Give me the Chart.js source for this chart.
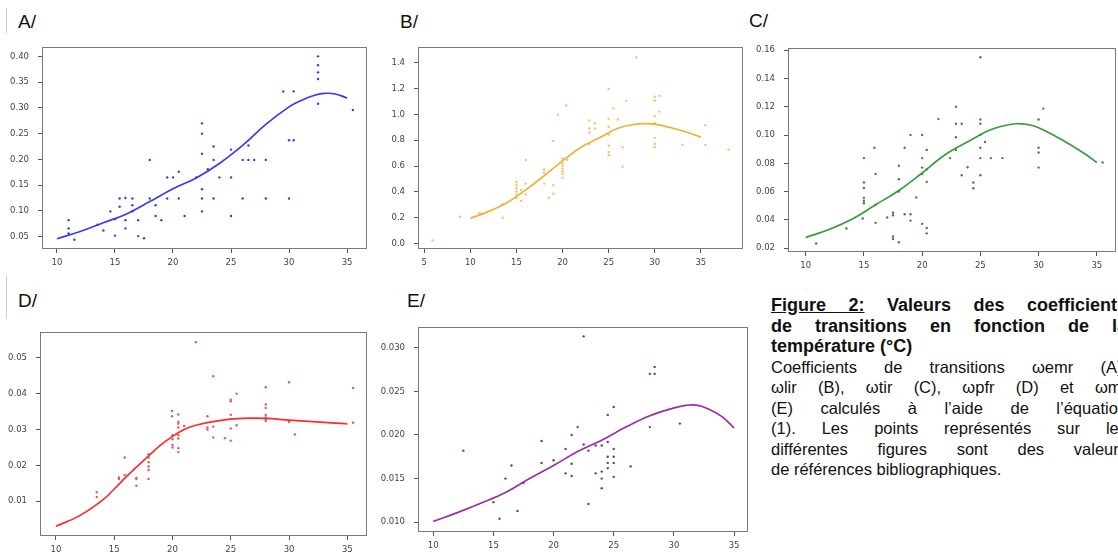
<!DOCTYPE html>
<html><head><meta charset="utf-8">
<script src="https://cdn.jsdelivr.net/npm/chart.js@4/dist/chart.umd.min.js"></script>
<style>
html,body{margin:0;padding:0;background:#fff;width:1118px;height:553px;overflow:hidden;position:relative}
canvas{position:absolute}
.lbl{position:absolute;font-family:"Liberation Sans",Arial,sans-serif;font-size:19px;line-height:1;color:#111}
.vl{position:absolute;width:1px;background:#cfcfcf}
#cap{position:absolute;left:771px;top:295px;width:356px;font-family:"Liberation Sans",Arial,sans-serif;font-size:16.5px;line-height:20.5px;color:#111}
#cap b{font-size:18px}
#cap .j{text-align:justify;text-align-last:justify}
</style></head>
<body>
<div class="vl" style="left:6px;top:8px;height:25px"></div>
<div class="vl" style="left:6px;top:275px;height:44px"></div>
<div class="lbl" style="left:18px;top:12px">A/</div>
<div class="lbl" style="left:400px;top:12px">B/</div>
<div class="lbl" style="left:749px;top:11px">C/</div>
<div class="lbl" style="left:18px;top:291px">D/</div>
<div class="lbl" style="left:407px;top:291px">E/</div>
<canvas id="cA"></canvas><canvas id="cB"></canvas><canvas id="cC"></canvas><canvas id="cD"></canvas><canvas id="cE"></canvas>
<div id="cap">
<div class="j"><b><u>Figure 2:</u> Valeurs des coefficients</b></div>
<div class="j"><b>de transitions en fonction de la</b></div>
<div><b>température (°C)</b></div>
<div class="j">Coefficients de transitions ωemr (A),</div>
<div class="j">ωlir (B), ωtir (C), ωpfr (D) et ωmr</div>
<div class="j">(E) calculés à l’aide de l’équation</div>
<div class="j">(1). Les points représentés sur les</div>
<div class="j">différentes figures sont des valeurs</div>
<div>de références bibliographiques.</div>
</div>
<script>
// ---- Panel A (ωemr) ----
const aXTicks = ['10','15','20','25','30','35'];
const aYTicks = ['0.05','0.10','0.15','0.20','0.25','0.30','0.35','0.40'];
const aPoints = [[11,0.082],[11,0.066],[11,0.056],[11.5,0.044],[13.5,0.073],[14,0.062],[14.6,0.099],[15,0.084],[15,0.052],[15.4,0.124],[15.4,0.108],[15.9,0.125],[15.9,0.082],[15.9,0.066],[16.5,0.124],[16.5,0.111],[16.5,0.099],[17,0.082],[17,0.051],[17.5,0.047],[18,0.199],[18,0.124],[18.5,0.111],[18.5,0.090],[19,0.082],[19.5,0.165],[19.5,0.124],[20,0.165],[20.5,0.176],[20.5,0.124],[21,0.090],[22,0.165],[22.5,0.270],[22.5,0.250],[22.5,0.211],[22.5,0.142],[22.5,0.124],[22.5,0.099],[23,0.181],[23.5,0.225],[23.5,0.199],[23.5,0.124],[24,0.165],[25,0.219],[25,0.165],[25,0.090],[26,0.199],[26,0.124],[26.5,0.227],[26.5,0.199],[27,0.199],[28,0.199],[28,0.124],[29.5,0.332],[30,0.237],[30,0.124],[30.4,0.332],[30.4,0.237],[32.5,0.400],[32.5,0.383],[32.5,0.369],[32.5,0.356],[32.5,0.308],[35.5,0.296]];
const aCurve = [[10,0.046],[12,0.060],[14,0.077],[16,0.094],[18,0.118],[20,0.143],[22,0.164],[24,0.192],[26,0.227],[28,0.268],[30,0.302],[31,0.314],[32,0.323],[33,0.328],[34,0.327],[35,0.319]];

// ---- Panel B (ωlir) ----
const bXTicks = ['5','10','15','20','25','30','35'];
const bYTicks = ['0.0','0.2','0.4','0.6','0.8','1.0','1.2','1.4'];
const bPoints = [[5.9,0.024],[8.9,0.208],[11,0.237],[13.5,0.200],[13.5,0.305],[15,0.476],[15,0.452],[15,0.428],[15,0.403],[15,0.379],[15,0.354],[15.5,0.33],[15.5,0.415],[16,0.647],[16,0.464],[16,0.379],[18,0.574],[18,0.55],[18,0.464],[18.5,0.354],[19,0.794],[19,0.452],[19,0.386],[19.5,0.997],[20,0.66],[20,0.64],[20,0.62],[20,0.60],[20,0.58],[20,0.56],[20,0.54],[20,0.51],[20.4,1.068],[20.5,0.647],[22.9,0.953],[22.9,0.892],[22.9,0.86],[22.9,0.77],[23.5,0.93],[23.5,0.89],[25,1.197],[25,0.965],[25,0.904],[25,0.843],[25,0.757],[25,0.709],[25,0.684],[25.5,1.046],[26,0.96],[26.5,0.594],[26.5,0.745],[26.9,1.104],[28,1.441],[30,1.136],[30,1.107],[30,0.985],[30,0.933],[30,0.818],[30,0.77],[30,0.745],[30.5,1.143],[30.5,1.021],[33,0.765],[35.5,0.916],[35.5,0.762],[38,0.728]];
const bCurve = [[10,0.195],[12,0.249],[14,0.318],[16,0.415],[18,0.525],[20,0.64],[22,0.745],[24,0.818],[26,0.892],[28,0.924],[29,0.928],[30,0.924],[32,0.892],[34,0.85],[35,0.823]];

// ---- Panel C (ωtir) ----
const cXTicks = ['10','15','20','25','30','35'];
const cYTicks = ['0.02','0.04','0.06','0.08','0.10','0.12','0.14','0.16'];
const cPoints = [[10.9,0.0233],[13.5,0.0339],[14.9,0.041],[15,0.0518],[15,0.0535],[15,0.0556],[15,0.0626],[15,0.0664],[15,0.0837],[15.9,0.091],[16,0.0725],[16,0.0507],[16,0.0379],[17,0.0417],[17.5,0.0451],[17.5,0.0433],[17.5,0.0283],[17.5,0.0265],[18,0.0783],[18,0.0687],[18,0.060],[18,0.0242],[18.5,0.091],[18.5,0.044],[19,0.10],[19,0.044],[19,0.0395],[19.5,0.0559],[20,0.10],[20,0.0837],[20,0.077],[20,0.0725],[20,0.0372],[20.4,0.0895],[20.4,0.0758],[20.4,0.0669],[20.4,0.0343],[20.4,0.0305],[21.4,0.1113],[22.4,0.0837],[22.9,0.12],[22.9,0.108],[22.9,0.0985],[22.9,0.0895],[23.4,0.108],[23.4,0.0716],[23.9,0.0772],[24.4,0.0664],[24.4,0.0624],[25,0.155],[25,0.111],[25,0.108],[25,0.10],[25,0.091],[25,0.0837],[25,0.0716],[25.4,0.0951],[25.9,0.0837],[26.9,0.0837],[30,0.111],[30,0.091],[30,0.0877],[30,0.077],[30.4,0.1187],[35.5,0.0806]];
const cCurve = [[10,0.0276],[12,0.0332],[14,0.0406],[16,0.0507],[18,0.0608],[20,0.0732],[22,0.0862],[24,0.0956],[26,0.1041],[28,0.108],[29,0.1075],[30,0.1052],[32,0.0967],[34,0.0866],[35,0.0806]];

// ---- Panel D (ωpfr) ----
const dXTicks = ['10','15','20','25','30','35'];
const dYTicks = ['0.01','0.02','0.03','0.04','0.05'];
const dPoints = [[13.5,0.0125],[13.5,0.0112],[15.4,0.0162],[15.4,0.0166],[15.9,0.0222],[15.9,0.0173],[16.9,0.0165],[16.9,0.0162],[16.9,0.0143],[17.95,0.0231],[17.95,0.0222],[17.95,0.0209],[17.95,0.0197],[17.95,0.0187],[17.95,0.0162],[19.95,0.0352],[19.95,0.0337],[20,0.0284],[20,0.0273],[20,0.0257],[20,0.025],[20.5,0.0342],[20.5,0.0322],[20.5,0.0316],[20.5,0.0306],[20.5,0.0284],[20.5,0.0275],[20.5,0.0248],[20.5,0.0237],[21,0.031],[22,0.0544],[23,0.0337],[23,0.0306],[23,0.030],[23.5,0.0449],[23.5,0.0308],[23.5,0.0278],[24.5,0.0276],[25,0.0383],[25,0.0379],[25,0.0341],[25,0.0303],[25,0.0269],[25.5,0.040],[25.5,0.0312],[28,0.0418],[28,0.037],[28,0.036],[28,0.0341],[28,0.0334],[28,0.0328],[28,0.0324],[30,0.0432],[30,0.0321],[30.5,0.0286],[35.5,0.0416],[35.5,0.0319]];
const dCurve = [[10,0.0030],[12,0.0059],[14,0.0103],[15,0.0134],[16,0.0167],[17,0.0198],[18,0.0228],[19,0.0257],[20,0.0281],[21,0.0300],[22,0.0312],[24,0.0325],[26,0.0331],[28,0.0331],[30,0.0326],[32,0.0322],[34,0.0318],[35,0.0316]];

// ---- Panel E (ωmr) ----
const eXTicks = ['10','15','20','25','30','35'];
const eYTicks = ['0.010','0.015','0.020','0.025','0.030'];
const ePoints = [[12.5,0.0182],[15,0.0123],[15.5,0.0104],[16,0.015],[16.5,0.0165],[17,0.0113],[17.5,0.0145],[19,0.0193],[19,0.0168],[20,0.0171],[21,0.0184],[21,0.0156],[21.5,0.020],[21.5,0.0167],[21.5,0.0153],[22,0.0209],[22.5,0.0313],[22.5,0.0189],[22.9,0.0182],[22.9,0.0121],[23.5,0.0188],[23.5,0.0156],[24,0.0188],[24,0.0158],[24,0.015],[24,0.0139],[24.5,0.0223],[24.5,0.0192],[24.5,0.0175],[24.5,0.0168],[24.5,0.0162],[25,0.0232],[25,0.0184],[25,0.0175],[25,0.0168],[25,0.0152],[26.4,0.0164],[28,0.027],[28,0.0209],[28.4,0.0278],[28.4,0.027],[30.5,0.0213]];
const eCurve = [[10,0.0101],[12,0.0111],[14,0.0122],[16,0.0134],[18,0.0150],[20,0.0165],[22,0.0181],[24,0.0194],[26,0.0209],[28,0.0222],[30,0.0231],[31,0.0234],[32,0.0234],[33,0.0229],[34,0.0221],[35,0.0208]];

const boxPlugin = {
  id: 'box',
  afterDraw(chart) {
    const a = chart.chartArea, ctx = chart.ctx;
    ctx.save();
    ctx.strokeStyle = '#7a7a7a';
    ctx.lineWidth = 1;
    ctx.strokeRect(Math.round(a.left) + 0.5, Math.round(a.top) + 0.5, Math.round(a.right - a.left) - 1, Math.round(a.bottom - a.top) - 1);
    ctx.restore();
  }
};

function axis(labels, range, isX, yW, xH) {
  return {
    type: 'linear', min: range[0], max: range[1], bounds: 'data',
    afterBuildTicks: s => { s.ticks = labels.map(t => ({ value: parseFloat(t) })); },
    afterFit: s => { if (isX) s.height = xH; else s.width = yW; },
    grid: { display: true, drawOnChartArea: false, drawTicks: true, tickLength: 4, color: '#555', lineWidth: 1 },
    border: { display: false },
    ticks: {
      autoSkip: false, maxRotation: 0, padding: isX ? 5 : 9,
      color: '#444', font: { family: 'DejaVu Sans', size: 8.5 },
      callback: v => { const i = labels.findIndex(t => Math.abs(parseFloat(t) - v) < 1e-9); return i >= 0 ? labels[i] : ''; }
    }
  };
}

function panel(id, box, xr, yr, xTicks, yTicks, pts, curve, lineColor, ptColor) {
  const yW = 42, xH = 24, pT = 3, pR = 3;
  const cv = document.getElementById(id);
  cv.width = box.r - box.l + yW + pR;
  cv.height = box.b - box.t + pT + xH;
  cv.style.left = (box.l - yW) + 'px';
  cv.style.top = (box.t - pT) + 'px';
  new Chart(cv, {
    type: 'scatter',
    data: {
      datasets: [
        { data: curve.map(([x, y]) => ({ x, y })), showLine: true, pointRadius: 0, borderColor: lineColor, borderWidth: 1.7, tension: 0.4, fill: false },
        { data: pts.map(([x, y]) => ({ x, y })), showLine: false, pointRadius: 1.2, pointBorderWidth: 0, backgroundColor: ptColor, borderColor: ptColor }
      ]
    },
    options: {
      responsive: false, animation: false, devicePixelRatio: 1,
      layout: { padding: { top: pT, right: pR, left: 0, bottom: 0 } },
      plugins: { legend: { display: false }, tooltip: { enabled: false } },
      scales: { x: axis(xTicks, xr, true, yW, xH), y: axis(yTicks, yr, false, yW, xH) }
    },
    plugins: [boxPlugin]
  });
}

panel('cA', { l: 42, t: 36, r: 368, b: 249 }, [8.71, 36.72], [0.026, 0.418], aXTicks, aYTicks, aPoints, aCurve, '#3b3bef', '#3043d8');
panel('cB', { l: 418, t: 36, r: 744, b: 249 }, [4.32, 39.57], [-0.042, 1.52], bXTicks, bYTicks, bPoints, bCurve, '#f2b134', '#f3c270');
panel('cC', { l: 788, t: 37, r: 1117, b: 252 }, [8.48, 36.65], [0.0173, 0.1615], cXTicks, cYTicks, cPoints, cCurve, '#3a9b3a', '#4f7a4f');
panel('cD', { l: 40, t: 321, r: 368, b: 536 }, [8.63, 36.69], [0.00028, 0.0572], dXTicks, dYTicks, dPoints, dCurve, '#ff2b2b', '#e05a5a');
panel('cE', { l: 418, t: 316, r: 749, b: 532 }, [8.73, 36.16], [0.00888, 0.03236], eXTicks, eYTicks, ePoints, eCurve, '#9b2ea3', '#6e3f6e');
</script>
</body></html>
